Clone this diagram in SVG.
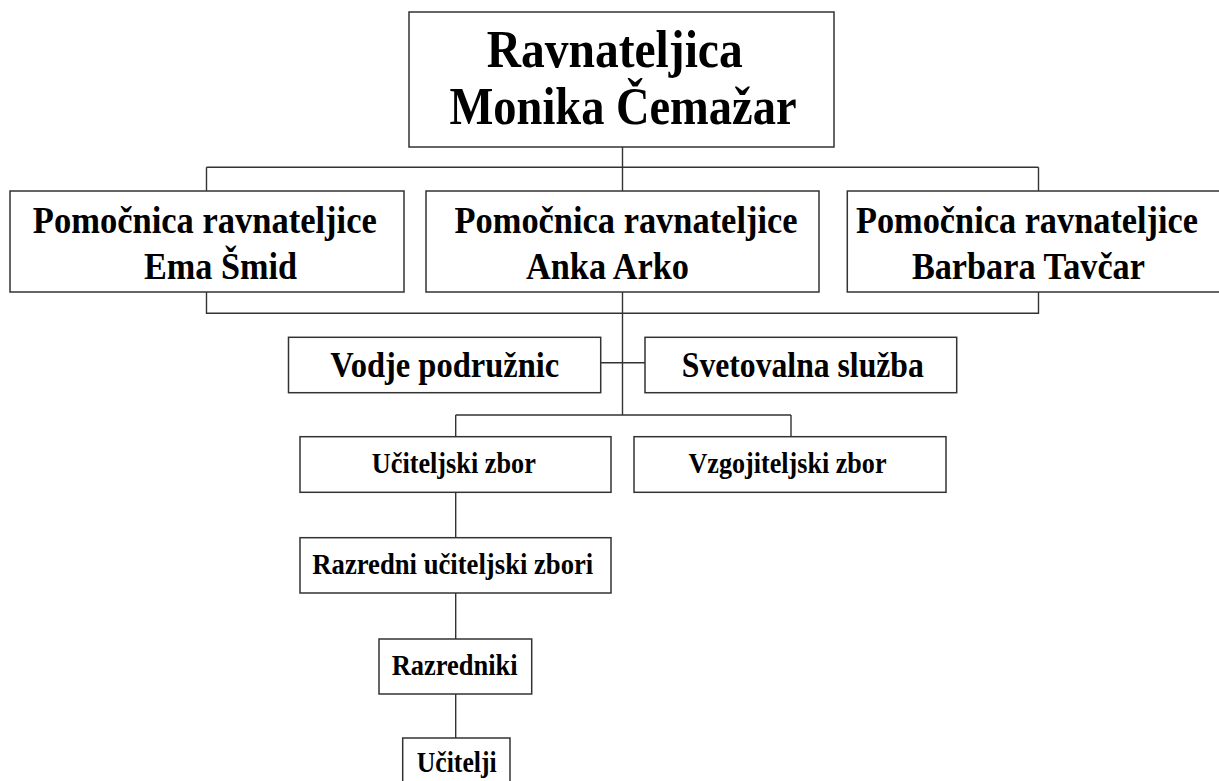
<svg xmlns="http://www.w3.org/2000/svg" width="1219" height="781" viewBox="0 0 1219 781">
<style>
.box{fill:#fff;stroke:#333;stroke-width:1.5}
.ln{fill:none;stroke:#333;stroke-width:1.4}
text{font-family:"Liberation Serif","Times New Roman",serif;font-weight:bold;fill:#000;text-anchor:middle}
.t1{font-size:52px}
.t2{font-size:38px}
.t3{font-size:35px}
.t4{font-size:29px}
</style>
<rect width="1219" height="781" fill="#fff"/>
<g id="connectors">
<path class="ln" d="M622.5 147V415M206.5 167.3H1038.5M206.5 167.3V191M1038.5 167.3V191M206.5 292V313.3H1038.5V292M600.7 362.7H645M455.7 415H791M455.7 415V436.7M791 415V436.7M455.7 492.3V537.7M455.7 593V639M455.7 694V738"/>
</g>
<g id="ravnateljica">
<rect class="box" x="409" y="12" width="425" height="135"/>
<text class="t1" x="614.7" y="67" textLength="256" lengthAdjust="spacingAndGlyphs">Ravnateljica</text>
<text class="t1" x="623" y="124" textLength="347" lengthAdjust="spacingAndGlyphs">Monika Čemažar</text>
</g>
<g id="pomocnica-smid">
<rect class="box" x="10" y="191" width="394" height="101"/>
<text class="t2" x="204.8" y="233" textLength="344" lengthAdjust="spacingAndGlyphs">Pomočnica ravnateljice</text>
<text class="t2" x="220.5" y="279" textLength="153" lengthAdjust="spacingAndGlyphs">Ema Šmid</text>
</g>
<g id="pomocnica-arko">
<rect class="box" x="426" y="191" width="393" height="101"/>
<text class="t2" x="626" y="233" textLength="343" lengthAdjust="spacingAndGlyphs">Pomočnica ravnateljice</text>
<text class="t2" x="607.5" y="279" textLength="163" lengthAdjust="spacingAndGlyphs">Anka Arko</text>
</g>
<g id="pomocnica-tavcar">
<rect class="box" x="847.3" y="191" width="380" height="101"/>
<text class="t2" x="1027" y="233" textLength="342" lengthAdjust="spacingAndGlyphs">Pomočnica ravnateljice</text>
<text class="t2" x="1028.4" y="279" textLength="233" lengthAdjust="spacingAndGlyphs">Barbara Tavčar</text>
</g>
<g id="vodje-podruznic">
<rect class="box" x="288.5" y="337.3" width="312.2" height="55.4"/>
<text class="t3" x="444.7" y="377" textLength="229" lengthAdjust="spacingAndGlyphs">Vodje podružnic</text>
</g>
<g id="svetovalna-sluzba">
<rect class="box" x="645" y="337.3" width="311.7" height="55.4"/>
<text class="t3" x="802.8" y="377" textLength="242" lengthAdjust="spacingAndGlyphs">Svetovalna služba</text>
</g>
<g id="uciteljski-zbor">
<rect class="box" x="300" y="436.7" width="311" height="55.6"/>
<text class="t4" x="453.8" y="473" textLength="164" lengthAdjust="spacingAndGlyphs">Učiteljski zbor</text>
</g>
<g id="vzgojiteljski-zbor">
<rect class="box" x="634" y="436.7" width="312" height="55.6"/>
<text class="t4" x="787.5" y="473" textLength="198" lengthAdjust="spacingAndGlyphs">Vzgojiteljski zbor</text>
</g>
<g id="razredni-uciteljski-zbori">
<rect class="box" x="300" y="537.7" width="311" height="55.3"/>
<text class="t4" x="452.8" y="574" textLength="281" lengthAdjust="spacingAndGlyphs">Razredni učiteljski zbori</text>
</g>
<g id="razredniki">
<rect class="box" x="379" y="639" width="152.7" height="55"/>
<text class="t4" x="454.7" y="675" textLength="126" lengthAdjust="spacingAndGlyphs">Razredniki</text>
</g>
<g id="ucitelji">
<rect class="box" x="402.7" y="738" width="107.3" height="60"/>
<text class="t4" x="456.7" y="772" textLength="80" lengthAdjust="spacingAndGlyphs">Učitelji</text>
</g>
</svg>
